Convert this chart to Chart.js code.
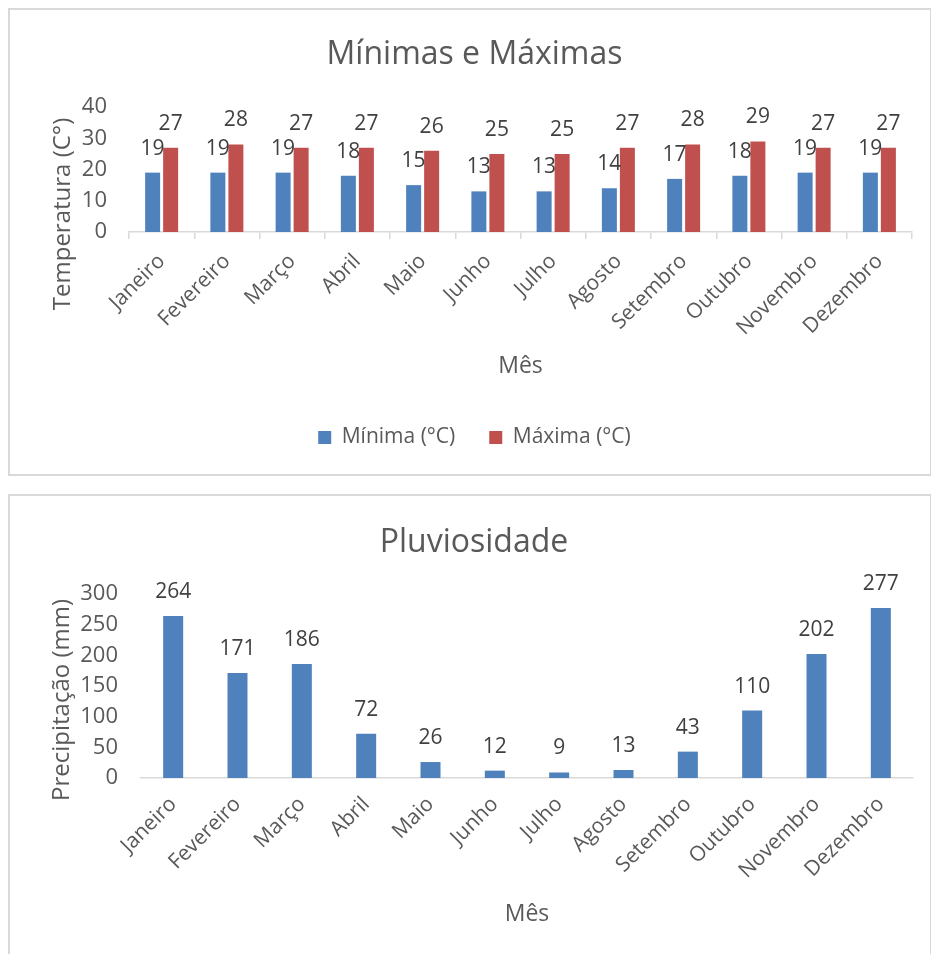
<!DOCTYPE html>
<html>
<head>
<meta charset="utf-8">
<script src="https://cdn.jsdelivr.net/npm/chart.js@4.4.1/dist/chart.umd.min.js"></script>
<style>
  html, body { margin: 0; padding: 0; background: #fff; overflow: hidden; width: 931px; height: 954px; }
  .box { position: absolute; left: 8px; width: 924px; border: 2px solid #d9d9d9; box-sizing: border-box; background: #fff; }
  #box1 { top: 8px; height: 468px; }
  #box2 { top: 494px; height: 472px; }
  canvas { display: block; }
</style>
</head>
<body>
<div class="box" id="box1"><canvas id="temp" width="920" height="464"></canvas></div>
<div class="box" id="box2"><canvas id="rain" width="920" height="468"></canvas></div>
<script>
// Monthly climate data
const months = ['Janeiro', 'Fevereiro', 'Março', 'Abril', 'Maio', 'Junho',
                'Julho', 'Agosto', 'Setembro', 'Outubro', 'Novembro', 'Dezembro'];
const minTemp = [19, 19, 19, 18, 15, 13, 13, 14, 17, 18, 19, 19];
const maxTemp = [27, 28, 27, 27, 26, 25, 25, 27, 28, 29, 27, 27];
const rainfall = [264, 171, 186, 72, 26, 12, 9, 13, 43, 110, 202, 277];
const tempTicks = [0, 10, 20, 30, 40];
const rainTicks = [0, 50, 100, 150, 200, 250, 300];

const FONT = "'Open Sans', 'Noto Sans', sans-serif";
const GREY = '#595959';
const BLUE = '#4f81bd';
const RED = '#c0504d';

// Value labels above each bar
const barValues = {
  id: 'barValues',
  afterDatasetsDraw(chart, args, opts) {
    const ctx = chart.ctx;
    ctx.save();
    ctx.font = `${opts.size}px ${FONT}`;
    ctx.fillStyle = '#404040';
    ctx.textAlign = 'center';
    ctx.textBaseline = 'middle';
    chart.data.datasets.forEach((ds, i) => {
      chart.getDatasetMeta(i).data.forEach((bar, j) => {
        ctx.fillText(String(ds.data[j]), bar.x, bar.y - opts.offset);
      });
    });
    ctx.restore();
  }
};

// Rotated value-axis title
const sideTitle = {
  id: 'sideTitle',
  afterDraw(chart, args, opts) {
    const ctx = chart.ctx;
    ctx.save();
    ctx.translate(opts.x, opts.y);
    ctx.rotate(-Math.PI / 2);
    ctx.font = `${opts.size}px ${FONT}`;
    ctx.fillStyle = GREY;
    ctx.textAlign = 'center';
    ctx.textBaseline = 'middle';
    ctx.fillText(opts.text, 0, 0);
    ctx.restore();
  }
};

function fixedSize(prop, value) {
  return function (scale) { scale[prop] = value; };
}

function valueAxis(ticks, width, pad) {
  return {
    min: ticks[0],
    max: ticks[ticks.length - 1],
    afterFit: fixedSize('width', width),
    afterBuildTicks(scale) { scale.ticks = ticks.map(v => ({ value: v })); },
    grid: { display: false, drawTicks: false },
    border: { display: false },
    ticks: { color: GREY, padding: pad, font: { family: FONT, size: 22 } }
  };
}

function monthAxis(height, titlePad, showTicks, labelPad) {
  return {
    afterFit: fixedSize('height', height),
    grid: {
      display: showTicks, drawOnChartArea: false, drawTicks: showTicks,
      tickLength: 7, color: '#d9d9d9', lineWidth: 1.5, offset: true
    },
    border: { display: true, color: '#d9d9d9', width: 1.5 },
    ticks: {
      color: GREY, maxRotation: 45, minRotation: 45, padding: labelPad,
      autoSkip: false, font: { family: FONT, size: 21 }
    },
    title: {
      display: true, text: 'Mês', color: GREY,
      font: { family: FONT, size: 23 }, padding: { top: 0, bottom: titlePad }
    }
  };
}

new Chart(document.getElementById('temp'), {
  type: 'bar',
  data: {
    labels: months,
    datasets: [
      { label: 'Mínima (°C)', data: minTemp, backgroundColor: BLUE,
        categoryPercentage: 0.552, barPercentage: 0.833 },
      { label: 'Máxima (°C)', data: maxTemp, backgroundColor: RED,
        categoryPercentage: 0.552, barPercentage: 0.833 }
    ]
  },
  plugins: [barValues, sideTitle],
  options: {
    responsive: false,
    animation: false,
    layout: { padding: { left: 27, right: 18, top: 0, bottom: 16 } },
    scales: {
      x: monthAxis(161, 13, true, 10),
      y: valueAxis(tempTicks, 92, 22)
    },
    plugins: {
      title: {
        display: true, text: 'Mínimas e Máximas', color: GREY,
        font: { family: FONT, size: 32, weight: 'normal' },
        padding: { top: 26, bottom: 32.6 }
      },
      legend: {
        position: 'bottom',
        labels: { boxWidth: 13, boxHeight: 13, padding: 34, color: GREY,
                  font: { family: FONT, size: 21 } }
      },
      tooltip: { enabled: false },
      barValues: { size: 21, offset: 24 },
      sideTitle: { text: 'Temperatura (C°)', x: 53, y: 204, size: 24 }
    }
  }
});

new Chart(document.getElementById('rain'), {
  type: 'bar',
  data: {
    labels: months,
    datasets: [
      { label: 'Precipitação (mm)', data: rainfall, backgroundColor: BLUE,
        categoryPercentage: 0.311, barPercentage: 1 }
    ]
  },
  plugins: [barValues, sideTitle],
  options: {
    responsive: false,
    animation: false,
    layout: { padding: { left: 25, right: 17, top: 0, bottom: 28 } },
    scales: {
      x: monthAxis(158, 7.7, false, 14),
      y: valueAxis(rainTicks, 106, 23)
    },
    plugins: {
      title: {
        display: true, text: 'Pluviosidade', color: GREY,
        font: { family: FONT, size: 32, weight: 'normal' },
        padding: { top: 27.8, bottom: 31.8 }
      },
      legend: { display: false },
      tooltip: { enabled: false },
      barValues: { size: 21, offset: 24 },
      sideTitle: { text: 'Precipitação (mm)', x: 52, y: 204, size: 24 }
    }
  }
});
</script>
</body>
</html>
